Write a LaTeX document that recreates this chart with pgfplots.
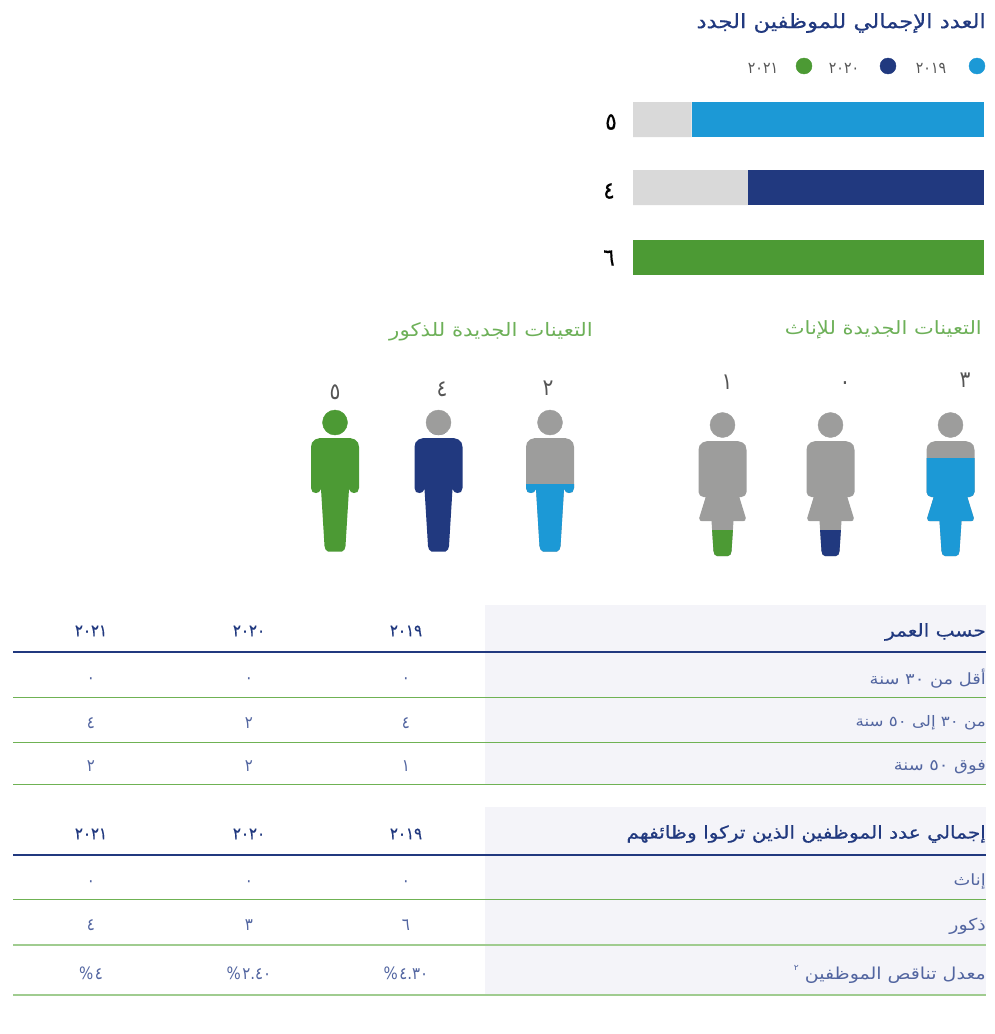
\documentclass[border=0pt]{standalone}
\usepackage{pgfplots}
\usepackage{pgfplotstable}
\usepackage{fontspec}
\pgfplotsset{compat=1.18}
\TeXXeTstate=1
\newfontfamily\arabicdig[Script=Arabic,FakeStretch=0.88]{DejaVu Sans}
\newfontfamily\arabicbold[Script=Arabic,FakeBold=0.5,FakeStretch=0.88]{DejaVu Sans}
\newfontfamily\arabicfont[Script=Arabic,FakeStretch=1.15]{DejaVu Sans}
\newfontfamily\arabicmed[Script=Arabic,FakeBold=0.5,FakeStretch=1.15]{DejaVu Sans}
\newcommand\dig[1]{\arabicdig\beginR #1\endR}
\definecolor{cblue}{HTML}{1C99D6}
\definecolor{cnavy}{HTML}{21397F}
\definecolor{cgreen}{HTML}{4C9A34}
\definecolor{cbar}{HTML}{D9D9D9}
\definecolor{cperson}{HTML}{9D9D9C}
\definecolor{cband}{HTML}{F4F4F9}
\definecolor{cline}{HTML}{6FB254}
\definecolor{cpale}{HTML}{A0CC90}
\definecolor{ctitle}{HTML}{6DB058}
\definecolor{ctext}{HTML}{5265A0}
\definecolor{clegend}{HTML}{555555}

% figure outlines, x relative to the figure's centre, y in pixels from the top
\pgfplotstableread{
x y
-15 438
15 438
20 439.5
23 442.5
24 447
24 488
22.5 492
19 493
16 492
14 489
10.5 546
9.5 549.5
7 551.5
-7 551.5
-9.5 549.5
-10.5 546
-14 489
-16 492
-19 493
-22.5 492
-24 488
-24 447
-23 442.5
-20 439.5
}\malebody
\pgfplotstableread{
x y
24 484
24 488
22.5 492
19 493
16 492
14 489
10.5 546
9.5 549.5
7 551.5
-7 551.5
-9.5 549.5
-10.5 546
-14 489
-16 492
-19 493
-22.5 492
-24 488
-24 484
}\malelegs
\pgfplotstableread{
x y
-15 441
15 441
20 442.5
23 445.5
24 450
24 492
22.5 495.5
19 497
16.8 497
23.3 518
22.5 520.5
21 521
11 521
9 551
8 554.5
5.5 556
-5.5 556
-8 554.5
-9 551
-11 521
-21 521
-22.5 520.5
-23.3 518
-16.8 497
-19 497
-22.5 495.5
-24 492
-24 450
-23 445.5
-20 442.5
}\femalebody
\pgfplotstableread{
x y
24 458
24 492
22.5 495.5
19 497
16.8 497
23.3 518
22.5 520.5
21 521
11 521
9 551
8 554.5
5.5 556
-5.5 556
-8 554.5
-9 551
-11 521
-21 521
-22.5 520.5
-23.3 518
-16.8 497
-19 497
-22.5 495.5
-24 492
-24 458
}\femalefill
\pgfplotstableread{
x y
10.4 530
9 551
8 554.5
5.5 556
-5.5 556
-8 554.5
-9 551
-10.4 530
}\femalefoot
\pgfplotstableread{
x y
8.1 432
5 434
0 435
-5 434
-8.1 432
}\headsliver

\newcommand\person[3]{\addplot[fill=#3,draw=none,forget plot] table[x expr=\thisrow{x}+#1,y=y]{#2} --cycle;}
\newcommand\band[3]{\addplot[fill=cband,draw=none,forget plot] coordinates {(#1,#2)(986,#2)(986,#3)(#1,#3)} --cycle;}
\newcommand\tabline[3]{\addplot[draw=#2,line width=#3,forget plot] coordinates {(13,#1)(986,#1)};}
\newcommand\tabcell[3]{\node[inner sep=0pt,text=ctext,font=\fontsize{17}{17}\selectfont] at (axis cs:#1,#2) {#3};}
\newcommand\tabyear[3]{\node[inner sep=0pt,text=cnavy,font=\fontsize{17}{17}\selectfont] at (axis cs:#1,#2) {\arabicbold\beginR #3\endR};}
\newcommand\tabrow[3]{\node[anchor=east,inner sep=0pt,text=ctext,font=\fontsize{#3}{#3}\selectfont] at (axis cs:986,#1) {\arabicfont #2};}
\newcommand\tabhead[2]{\node[anchor=east,inner sep=0pt,text=cnavy,font=\fontsize{17.5}{17.5}\selectfont] at (axis cs:986,#1) {\arabicmed #2};}
\newcommand\pct[1]{\mbox{\arabicdig\%}\kern1.5pt\mbox{\arabicdig #1}}
\newcommand\figcount[3]{\node[inner sep=0pt,text=clegend,font=\fontsize{23}{23}\selectfont] at (axis cs:#1,#2) {\dig{#3}};}
\newcommand\barlabel[3]{\node[inner sep=0pt,text=black,font=\fontsize{24}{24}\selectfont] at (axis cs:#1,#2) {\arabicbold\beginR #3\endR};}

\begin{document}
\begin{tikzpicture}
\path[use as bounding box] (0pt,0pt) rectangle (995pt,1034pt);
\begin{axis}[
    at={(0pt,0pt)},anchor=south west,
    scale only axis,width=995pt,height=1034pt,
    xmin=0,xmax=995,ymin=0,ymax=1034,y dir=reverse,
    hide axis,clip=false,
  ]
  % table bands
  \band{485}{605}{784}
  \band{485}{807}{995}
  \tabline{697.5}{cline}{1.2pt}
  \tabline{742.5}{cline}{1.2pt}
  \tabline{784.5}{cline}{1.2pt}
  \tabline{899.5}{cline}{1.2pt}
  \tabline{945}{cpale}{1.6pt}
  \tabline{995}{cpale}{1.6pt}
  \tabline{652}{cnavy}{2.4pt}
  \tabline{855}{cnavy}{2.4pt}

  % legend
  \addplot[only marks,mark=*,mark size=8pt,mark options={cblue},forget plot] coordinates {(977,66)};
  \addplot[only marks,mark=*,mark size=8pt,mark options={cnavy},forget plot] coordinates {(888,66)};
  \addplot[only marks,mark=*,mark size=8pt,mark options={cgreen},forget plot] coordinates {(804,66)};

  % men: 5, 4, 2
  \person{335}{\malebody}{cgreen}
  \person{438.5}{\malebody}{cnavy}
  \person{550}{\malebody}{cperson}
  \person{550}{\malelegs}{cblue}
  % women: 3, 0, 1
  \person{950.5}{\femalebody}{cperson}
  \person{950.5}{\femalefill}{cblue}
  \person{830.5}{\femalebody}{cperson}
  \person{830.5}{\femalefoot}{cnavy}
  \person{722.5}{\femalebody}{cperson}
  \person{722.5}{\femalefoot}{cgreen}
  % heads
  \addplot[only marks,mark=*,mark size=12.5pt,mark options={cperson},forget plot] coordinates {(438.5,422.5)(550,422.5)(950.5,425)(830.5,425)(722.5,425)};
  \addplot[only marks,mark=*,mark size=12.5pt,mark options={cgreen},forget plot] coordinates {(335,422.5)};
  \person{438.5}{\headsliver}{cnavy}

  % headings
  \node[anchor=east,inner sep=0pt,text=cnavy,font=\fontsize{19.7}{20}\selectfont] at (axis cs:986,23) {\arabicmed\beginR العدد الإجمالي للموظفين الجدد\endR};
  \node[anchor=east,inner sep=0pt,text=ctitle,font=\fontsize{18.3}{19}\selectfont] at (axis cs:982,330) {\arabicfont\beginR التعينات الجديدة للإناث\endR};
  \node[anchor=east,inner sep=0pt,text=ctitle,font=\fontsize{18.5}{19}\selectfont] at (axis cs:593,332) {\arabicfont\beginR التعينات الجديدة للذكور\endR};

  % legend text
  \node[inner sep=0pt,text=clegend,font=\fontsize{16}{16}\selectfont] at (axis cs:931,68) {\dig{٢٠١٩}};
  \node[inner sep=0pt,text=clegend,font=\fontsize{16}{16}\selectfont] at (axis cs:844,68) {\dig{٢٠٢٠}};
  \node[inner sep=0pt,text=clegend,font=\fontsize{16}{16}\selectfont] at (axis cs:763,68) {\dig{٢٠٢١}};

  % bar values
  \barlabel{611}{122}{٥}
  \barlabel{609}{191}{٤}
  \barlabel{609}{258}{٦}

  % figure counts
  \figcount{965}{380}{٣}
  \figcount{845}{386}{٠}
  \figcount{727}{382}{١}
  \figcount{548}{388}{٢}
  \figcount{442}{389}{٤}
  \figcount{335}{392}{٥}

  % first table
  \tabhead{632}{\beginR حسب العمر\endR}
  \tabrow{679}{\beginR أقل من ٣٠ سنة\endR}{15.5}
  \tabrow{723}{\beginR من ٣٠ إلى ٥٠ سنة\endR}{14.5}
  \tabrow{767}{\beginR فوق ٥٠ سنة\endR}{15.5}
  \tabyear{406}{631}{٢٠١٩} \tabyear{249}{631}{٢٠٢٠} \tabyear{91}{631}{٢٠٢١}
  \tabcell{406}{681}{\dig{٠}} \tabcell{249}{681}{\dig{٠}} \tabcell{91}{681}{\dig{٠}}
  \tabcell{406}{723}{\dig{٤}} \tabcell{249}{723}{\dig{٢}} \tabcell{91}{723}{\dig{٤}}
  \tabcell{406}{766}{\dig{١}} \tabcell{249}{766}{\dig{٢}} \tabcell{91}{766}{\dig{٢}}

  % second table
  \tabhead{834}{\beginR إجمالي عدد الموظفين الذين تركوا وظائفهم\endR}
  \tabrow{881}{\beginR إناث\endR}{15.5}
  \tabrow{926}{\beginR ذكور\endR}{16.5}
  \tabrow{974}{\beginR معدل تناقص الموظفين \raisebox{1ex}{\fontsize{8}{8}\selectfont ٢}\endR}{16.5}
  \tabyear{406}{834}{٢٠١٩} \tabyear{249}{834}{٢٠٢٠} \tabyear{91}{834}{٢٠٢١}
  \tabcell{406}{884}{\dig{٠}} \tabcell{249}{884}{\dig{٠}} \tabcell{91}{884}{\dig{٠}}
  \tabcell{406}{925}{\dig{٦}} \tabcell{249}{925}{\dig{٣}} \tabcell{91}{925}{\dig{٤}}
  \tabcell{406}{973}{\pct{٤.٣٠}} \tabcell{249}{973}{\pct{٢.٤٠}} \tabcell{91}{973}{\pct{٤}}
\end{axis}

% total new hires by year
\begin{axis}[
    at={(633pt,759pt)},anchor=south west,
    scale only axis,width=351pt,height=173pt,
    xbar stacked,bar width=35pt,
    xmin=0,xmax=6,x dir=reverse,
    ymin=-0.254,ymax=2.254,
    hide axis,
  ]
  \addplot[fill=cgreen,draw=none] coordinates {(6,0)(0,1.014)(0,2)};
  \addplot[fill=cnavy,draw=none] coordinates {(0,0)(4.03,1.014)(0,2)};
  \addplot[fill=cblue,draw=none] coordinates {(0,0)(0,1.014)(5,2)};
  \addplot[fill=cbar,draw=none] coordinates {(0,0)(1.97,1.014)(1,2)};
\end{axis}
\end{tikzpicture}
\end{document}
